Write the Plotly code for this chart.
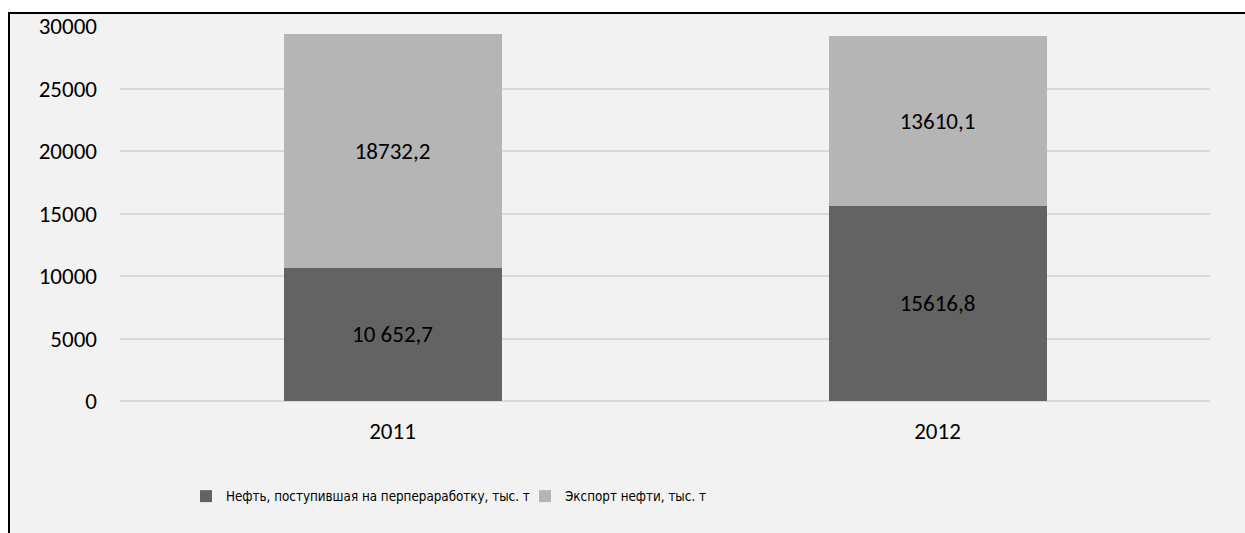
import plotly.graph_objects as go

years = ["2011", "2012"]
refining = [10652.7, 15616.8]
export = [18732.2, 13610.1]
refining_text = ["10 652,7", "15616,8"]
export_text = ["18732,2", "13610,1"]
series_names = ["Нефть, поступившая на перпераработку, тыс. т", "Экспорт нефти, тыс. т"]
y_ticks = [0, 5000, 10000, 15000, 20000, 25000, 30000]
y_tick_text = ["0", "5000", "10000", "15000", "20000", "25000", "30000"]

num_font = dict(family="Carlito, Liberation Sans, Arial", size=23, color="#000000")

fig = go.Figure()
fig.add_trace(go.Bar(
    x=years, y=refining, name=series_names[0],
    marker=dict(color="#636363", line=dict(width=0)),
    text=refining_text, textposition="inside", insidetextanchor="middle",
    textfont=num_font, width=0.4,
))
fig.add_trace(go.Bar(
    x=years, y=export, name=series_names[1],
    marker=dict(color="#B5B5B5", line=dict(width=0)),
    text=export_text, textposition="inside", insidetextanchor="middle",
    textfont=num_font, width=0.4,
))

W, H = 1245, 533
L, T = 120, 24
R = W - 1210
B = H - 401
pw, ph = W - L - R, H - T - B

def px_x(p):
    return (p - L) / pw

def px_y(p):
    return (H - B - p) / ph

fig.add_shape(type="rect", xref="paper", yref="paper",
              x0=px_x(9), x1=px_x(1300), y0=px_y(600), y1=px_y(11),
              fillcolor="#F2F2F2", line=dict(color="#000000", width=2), layer="below")

fig.update_layout(
    width=W, height=H,
    margin=dict(l=L, r=R, t=T, b=B),
    paper_bgcolor="#FFFFFF", plot_bgcolor="rgba(0,0,0,0)",
    barmode="stack",
    showlegend=True,
    legend=dict(orientation="h", x=px_x(186), xanchor="left", y=px_y(497), yanchor="middle",
                font=dict(family="DejaVu Sans Condensed, Liberation Sans, Arial", size=13.3,
                          color="#000000"),
                bgcolor="rgba(0,0,0,0)", traceorder="normal",
                itemwidth=30, entrywidth=294, entrywidthmode="pixels"),
    xaxis=dict(showgrid=False, showline=False, zeroline=False, ticks="",
               tickfont=num_font, ticklabelstandoff=14),
    yaxis=dict(range=[0, 30000], tickvals=y_ticks, ticktext=y_tick_text,
               showgrid=True, gridcolor="#D9D9D9",
               gridwidth=1.5, zeroline=True, zerolinecolor="#D9D9D9", zerolinewidth=1.5,
               showline=False, ticks="", tickfont=num_font, ticklabelstandoff=22),
    font=num_font,
)

fig.write_html("out.html", config={"displayModeBar": False},
               post_script="document.body.style.margin='0';document.body.style.overflow='hidden';")
